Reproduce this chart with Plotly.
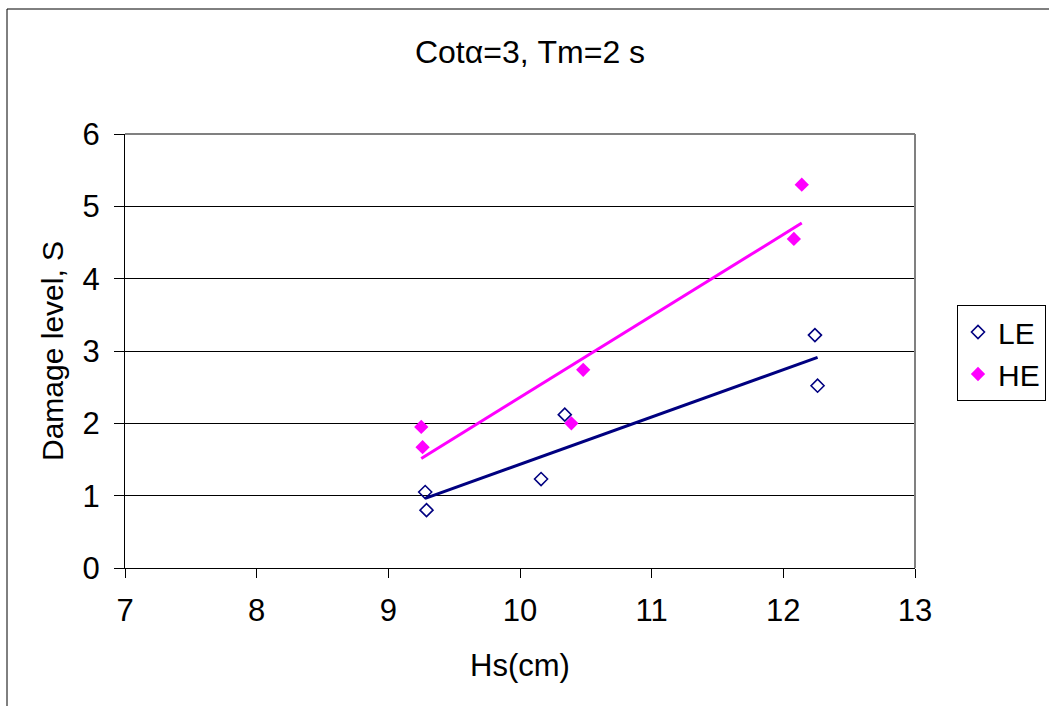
import numpy as np
import plotly.graph_objects as go

# Data
le_x = [9.28, 9.29, 10.16, 10.34, 12.24, 12.26]
le_y = [1.05, 0.80, 1.23, 2.12, 3.22, 2.52]
he_x = [9.25, 9.26, 10.39, 10.48, 12.08, 12.14]
he_y = [1.95, 1.67, 2.00, 2.74, 4.55, 5.30]

x_ticks = [7, 8, 9, 10, 11, 12, 13]
y_ticks = [0, 1, 2, 3, 4, 5, 6]

title_text = "Cotα=3, Tm=2 s"
x_title = "Hs(cm)"
y_title = "Damage level, S"

NAVY = "#000080"
MAG = "#FF00FF"
FONT = "Liberation Sans, Arial, sans-serif"


def trend(xs, ys):
    k, b = np.polyfit(xs, ys, 1)
    xx = [min(xs), max(xs)]
    return xx, [k * v + b for v in xx]


fig = go.Figure()

tx, ty = trend(le_x, le_y)
fig.add_trace(go.Scatter(x=tx, y=ty, mode="lines", line=dict(color=NAVY, width=3),
                         showlegend=False, hoverinfo="skip"))
tx, ty = trend(he_x, he_y)
fig.add_trace(go.Scatter(x=tx, y=ty, mode="lines", line=dict(color=MAG, width=3),
                         showlegend=False, hoverinfo="skip"))

fig.add_trace(go.Scatter(x=le_x, y=le_y, mode="markers", name="LE",
                         marker=dict(symbol="diamond-open", size=10, color=NAVY,
                                     line=dict(color=NAVY, width=1.6))))
fig.add_trace(go.Scatter(x=he_x, y=he_y, mode="markers", name="HE",
                         marker=dict(symbol="diamond", size=11, color=MAG,
                                     line=dict(width=0))))

W, H = 1049, 706
L, R, T, B = 125, 134, 134, 138
pw, ph = W - L - R, H - T - B

def px(xp):
    return (xp - L) / pw

def py(yp):
    return (H - B - yp) / ph

fig.update_layout(
    width=W, height=H,
    margin=dict(l=L, r=R, t=T, b=B, autoexpand=False),
    paper_bgcolor="white", plot_bgcolor="white",
    font=dict(family=FONT, size=31, color="black"),
    title=dict(text=title_text, x=530 / W, xanchor="center",
               y=1 - 52 / H, yanchor="middle", font=dict(size=32)),
    showlegend=True,
    legend=dict(x=px(957), xanchor="left", y=py(305), yanchor="top",
                bordercolor="#000000", borderwidth=1, bgcolor="white",
                font=dict(size=30), tracegroupgap=0),
    xaxis=dict(range=[7, 13], tickvals=x_ticks, showgrid=False, zeroline=False,
               showline=True, linecolor="black", linewidth=1,
               ticks="outside", ticklen=9, tickcolor="black",
               ticklabelstandoff=6, tickfont=dict(size=31)),
    yaxis=dict(range=[0, 6], tickvals=y_ticks, showgrid=True, gridcolor="black",
               gridwidth=1, zeroline=False,
               showline=True, linecolor="black", linewidth=1,
               ticks="outside", ticklen=10, tickcolor="black",
               ticklabelstandoff=8, tickfont=dict(size=31)),
    annotations=[
        dict(text=x_title, xref="paper", yref="paper", x=0.5, y=py(665),
             xanchor="center", yanchor="middle", showarrow=False,
             font=dict(size=31)),
        dict(text=y_title, xref="paper", yref="paper", x=px(52), y=0.5,
             xanchor="center", yanchor="middle", showarrow=False, textangle=-90,
             font=dict(size=30)),
    ],
    shapes=[
        # outer chart border
        dict(type="rect", xref="paper", yref="paper", x0=px(7), x1=px(1070),
             y0=py(720), y1=py(9), line=dict(color="black", width=1),
             fillcolor="rgba(0,0,0,0)", layer="below"),
        # plot area top/right border (gray)
        dict(type="line", xref="paper", yref="paper", x0=0, x1=1, y0=1, y1=1,
             line=dict(color="#808080", width=2), layer="above"),
        dict(type="line", xref="paper", yref="paper", x0=1, x1=1, y0=0, y1=1,
             line=dict(color="#808080", width=2), layer="above"),
    ],
)

fig.write_html("out.html")
